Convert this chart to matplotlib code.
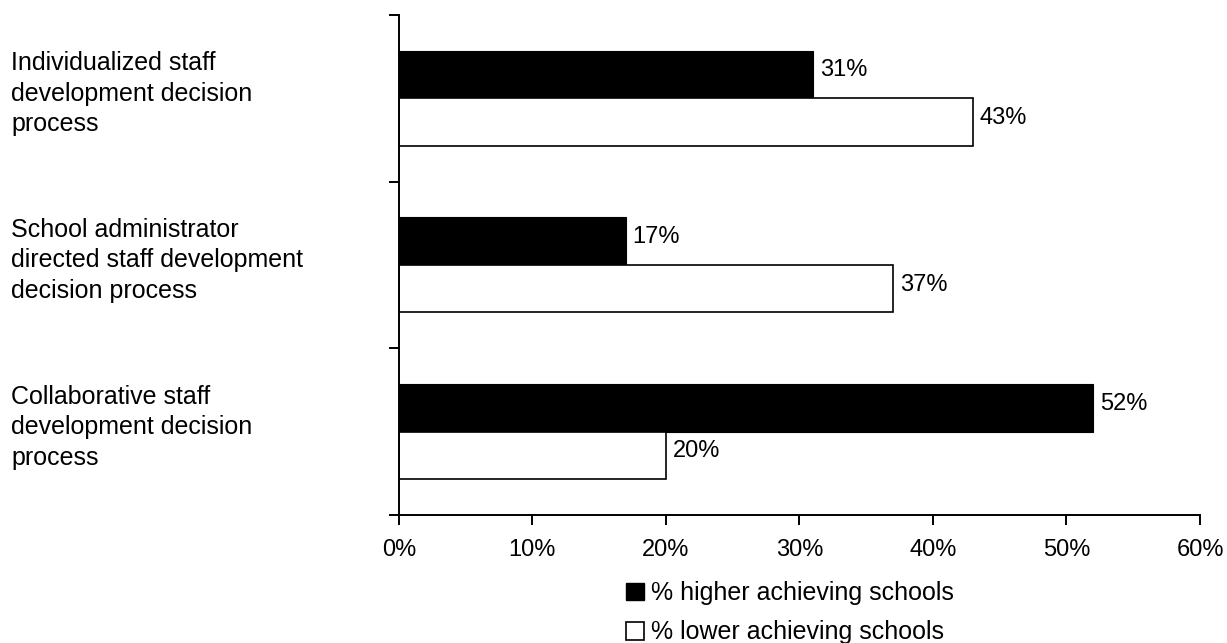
import matplotlib.pyplot as plt
import matplotlib.transforms as mtransforms
from matplotlib.patches import Patch
import numpy as np

plt.rcParams["font.family"] = ["Liberation Sans", "DejaVu Sans"]
plt.rcParams["font.size"] = 17

categories = [
    "Individualized staff\ndevelopment decision\nprocess",
    "School administrator\ndirected staff development\ndecision process",
    "Collaborative staff\ndevelopment decision\nprocess",
]
higher_pct = [31, 17, 52]
lower_pct = [43, 37, 20]
series_names = ["% higher achieving schools", "% lower achieving schools"]
x_ticks = [0, 10, 20, 30, 40, 50, 60]

bar_h = 0.285
y = np.arange(len(categories))

fig = plt.figure(figsize=(12.27, 6.43), dpi=100)
ax = fig.add_axes([0.325, 0.199, 0.653, 0.778])

ax.barh(y - bar_h / 2, higher_pct, height=bar_h, color="black",
        edgecolor="black", linewidth=0.8)
ax.barh(y + bar_h / 2, lower_pct, height=bar_h, color="white",
        edgecolor="black", linewidth=1.2)

# percentage labels to the right of each bar
for yi, v in zip(y - bar_h / 2, higher_pct):
    ax.annotate(f"{v}%", (v, yi), xytext=(5, 3), textcoords="offset points",
                va="center", ha="left", fontsize=17)
for yi, v in zip(y + bar_h / 2, lower_pct):
    ax.annotate(f"{v}%", (v, yi), xytext=(5, 3), textcoords="offset points",
                va="center", ha="left", fontsize=17)

ax.set_xlim(0, 60)
ax.set_ylim(len(categories) - 0.5, -0.5)
ax.set_xticks(x_ticks)
ax.set_xticklabels([f"{t}%" for t in x_ticks])
ax.set_yticks(np.arange(len(categories) + 1) - 0.5)
ax.set_yticklabels([])
ax.tick_params(axis="both", direction="out", length=7, width=1.4)
ax.tick_params(axis="x", pad=10)

for side in ["top", "right"]:
    ax.spines[side].set_visible(False)
for side in ["left", "bottom"]:
    ax.spines[side].set_linewidth(1.4)

# category labels, left aligned at the figure edge
trans = mtransforms.blended_transform_factory(fig.transFigure, ax.transData)
for yi, label in zip(y, categories):
    ax.text(0.009, yi - bar_h + 0.005, label, transform=trans, ha="left",
            va="top", fontsize=18, linespacing=1.33)

handles = [
    Patch(facecolor="black", edgecolor="black"),
    Patch(facecolor="white", edgecolor="black", linewidth=1.2),
]
fig.legend(handles, series_names, loc="upper left",
           bbox_to_anchor=(626 / 1227, 1 - 581 / 643), frameon=False,
           borderpad=0, borderaxespad=0, handlelength=0.7,
           handleheight=0.7, handletextpad=0.3, labelspacing=0.62,
           fontsize=18)

fig.savefig("out.png", dpi=100)
